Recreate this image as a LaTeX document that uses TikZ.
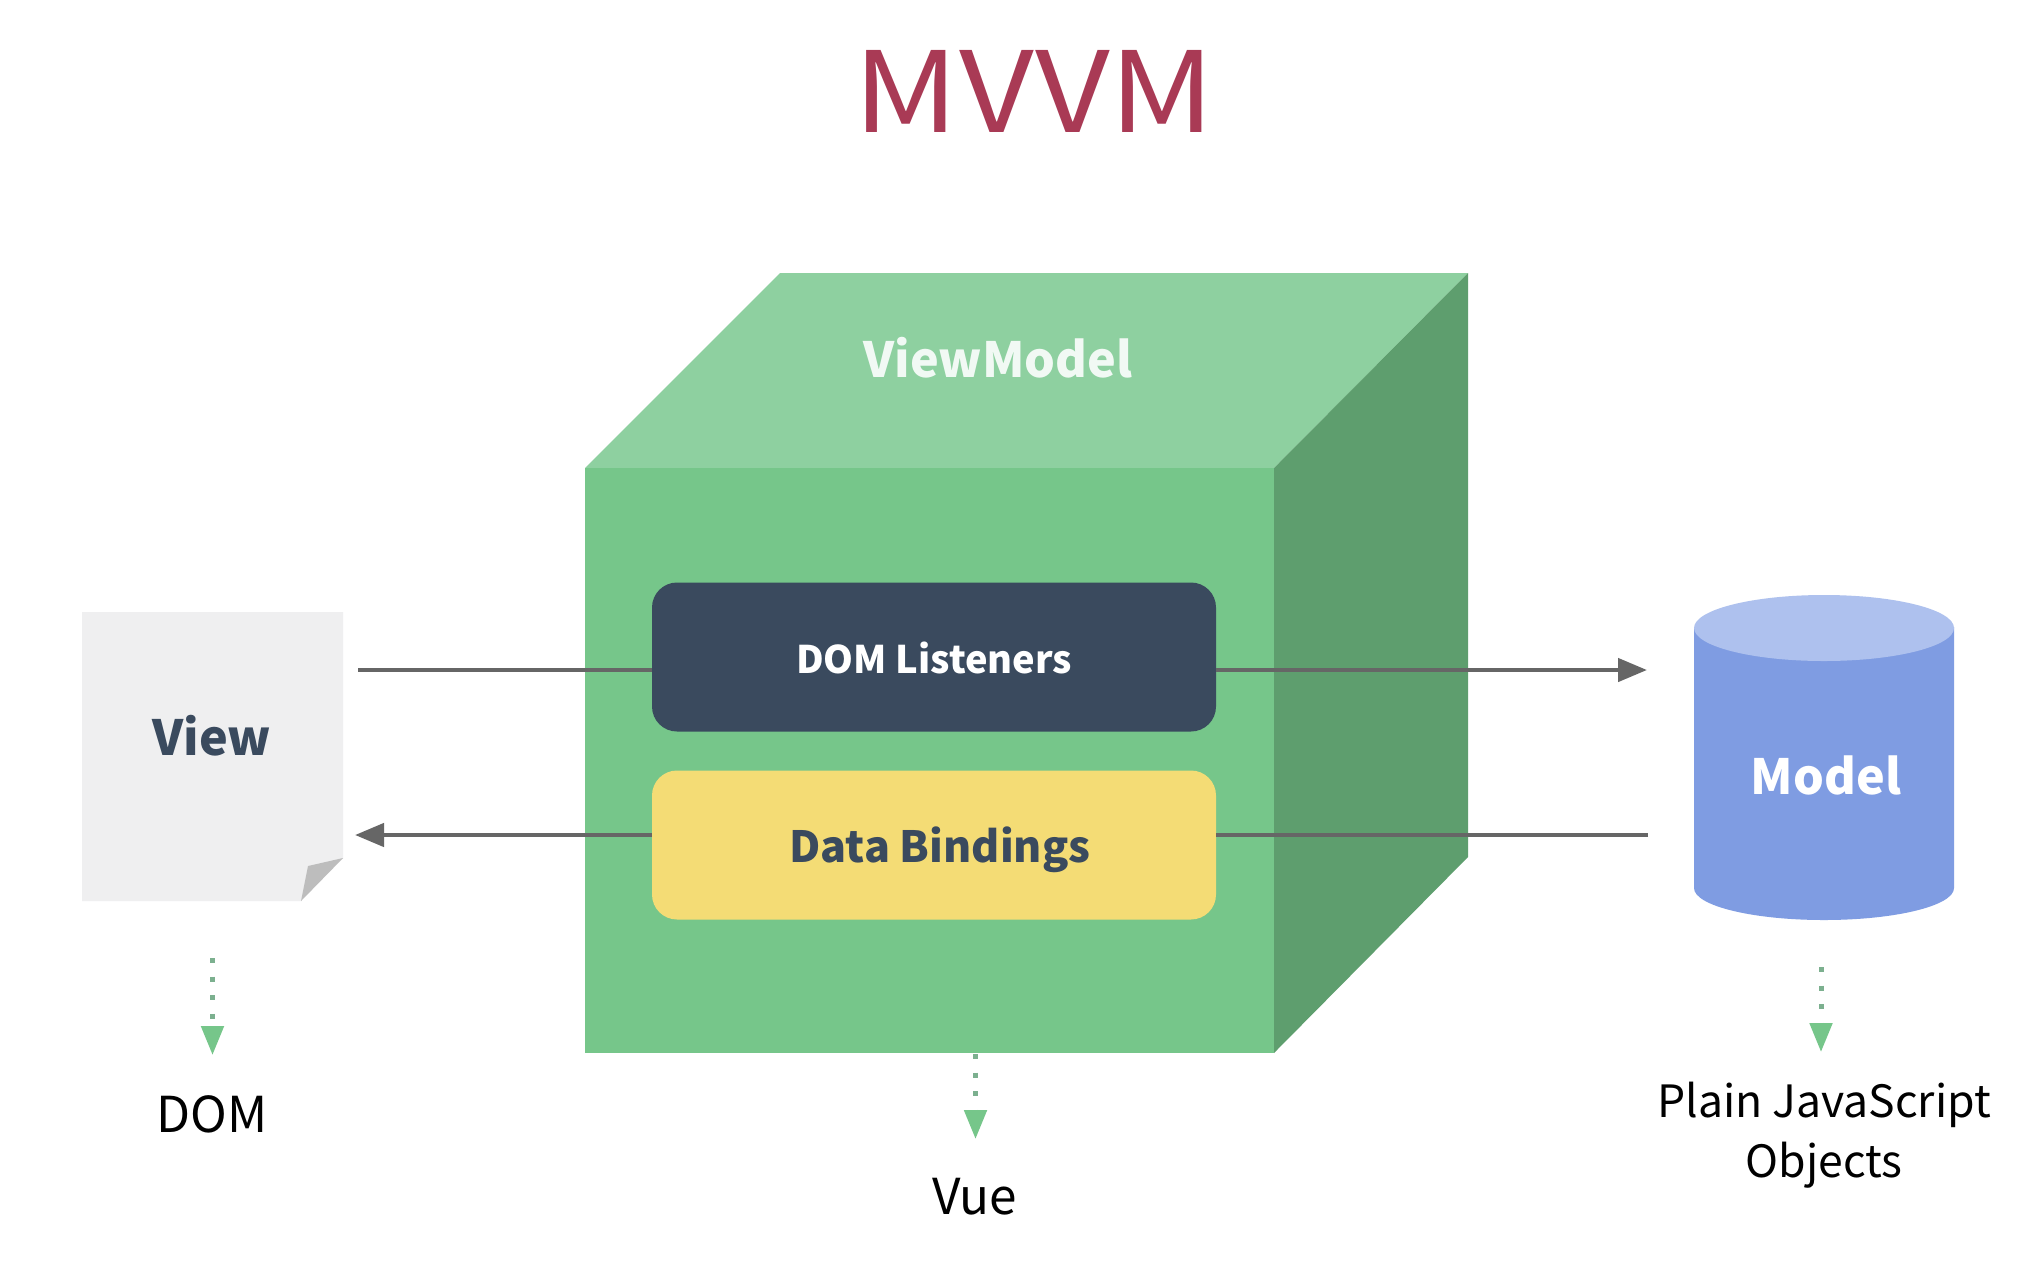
\documentclass[tikz,border=0pt]{standalone}
\usepackage{fontspec}
\setmainfont{Noto Sans CJK SC}
\usetikzlibrary{arrows.meta}
\definecolor{titlec}{HTML}{A93A55}
\definecolor{front}{HTML}{76C68A}
\definecolor{topf}{HTML}{8ED0A0}
\definecolor{sidef}{HTML}{5E9E6E}
\definecolor{navy}{HTML}{3A4A5E}
\definecolor{yel}{HTML}{F4DC75}
\definecolor{pagec}{HTML}{EFEFF0}
\definecolor{foldc}{HTML}{BDBDBD}
\definecolor{cyltop}{HTML}{AEC1EE}
\definecolor{cylbody}{HTML}{7F9CE2}
\definecolor{linec}{HTML}{666666}
\definecolor{dotc}{HTML}{7CB08F}
\newcommand{\fs}[1]{\fontsize{#1}{#1}\selectfont}
\tikzset{
  x=1pt,y=-1pt,
  panel/.style={rectangle,rounded corners=25pt,minimum width=564pt,minimum height=149pt,inner sep=0pt,draw=none},
  boldlabel/.style={inner sep=0pt,font=\fs{48.5}\bfseries},
  plainlabel/.style={inner sep=0pt,align=center,font=\fs{49.5}},
  flow/.style={draw=linec,line width=4.5pt,-{Triangle[length=29pt,width=23pt,fill=linec]}},
  flowline/.style={draw=linec,line width=4.5pt},
  dotflow/.style={draw=dotc,line width=5pt,dash pattern=on 5pt off 13.6pt,-{Triangle[length=29pt,width=22pt,color=front,fill=front]}},
}
\begin{document}
\begin{tikzpicture}
\useasboundingbox (0,0) rectangle (2028,1280);
\fill[white] (0,0) rectangle (2028,1280);
\node[inner sep=0pt,text=titlec,font=\fs{112},xscale=1.16] (title) at (1034.5,91) {MVVM};
% cube
\fill[topf] (585,468) -- (780,273) -- (1468,273) -- (1274,468) -- cycle;
\fill[sidef] (1274,468) -- (1468,273) -- (1468,857) -- (1274,1053) -- cycle;
\fill[front] (585,468) rectangle (1274,1053);
\node[boldlabel,text=white!88!topf] (vm) at (998,358) {ViewModel};
% panels
\node[panel,fill=navy] (dl) at (934,657) {};
\node[panel,fill=yel] (db) at (934,845) {};
\node[boldlabel,font=\fs{38}\bfseries,text=white] (dltext) at (934,658) {DOM Listeners};
\node[boldlabel,font=\fs{43}\bfseries,text=navy] (dbtext) at (940,850) {Data Bindings};
% view page
\fill[pagec] (82,612) -- (343,612) -- (343,858) -- (301,901) -- (82,901) -- cycle;
\fill[foldc] (343,858) -- (301,901) -- (308,866) -- cycle;
\node[boldlabel,text=navy] (view) at (212,736) {View};
% model cylinder
\fill[cylbody] (1694,627) -- (1694,888) arc[start angle=180,end angle=360,x radius=130,y radius=-32] -- (1954,627) -- cycle;
\fill[cyltop] (1824,628) ellipse[x radius=130,y radius=33];
\node[boldlabel,text=white] (model) at (1826,775) {Model};
% connectors
\coordinate (vr1) at (358,670);
\coordinate (vr2) at (355,835);
\coordinate (mr1) at (1647,670);
\coordinate (mr2) at (1648,835);
\draw[flowline] (vr1) -- (vr1 -| dl.west);
\draw[flow] (vr1 -| dl.east) -- (mr1);
\draw[flowline] (mr2) -- (mr2 -| db.east);
\draw[flow] (vr2 -| db.west) -- (vr2);
% dotted
\node[plainlabel] (dom) at (212,1114) {DOM};
\node[plainlabel] (vue) at (975,1197) {Vue};
\node[plainlabel,font=\fs{44.5}] (pjs) at (1824,1135) {Plain JavaScript\\[14pt]Objects};
\coordinate (d1a) at (212.5,958); \coordinate (d1b) at (212.5,1055);
\coordinate (d2a) at (975.5,1054); \coordinate (d2b) at (975.5,1139);
\coordinate (d3a) at (1821,967); \coordinate (d3b) at (1821,1052);
\draw[dotflow] (d1a) -- (d1b);
\draw[dotflow] (d2a) -- (d2b);
\draw[dotflow] (d3a) -- (d3b);
\end{tikzpicture}
\end{document}
